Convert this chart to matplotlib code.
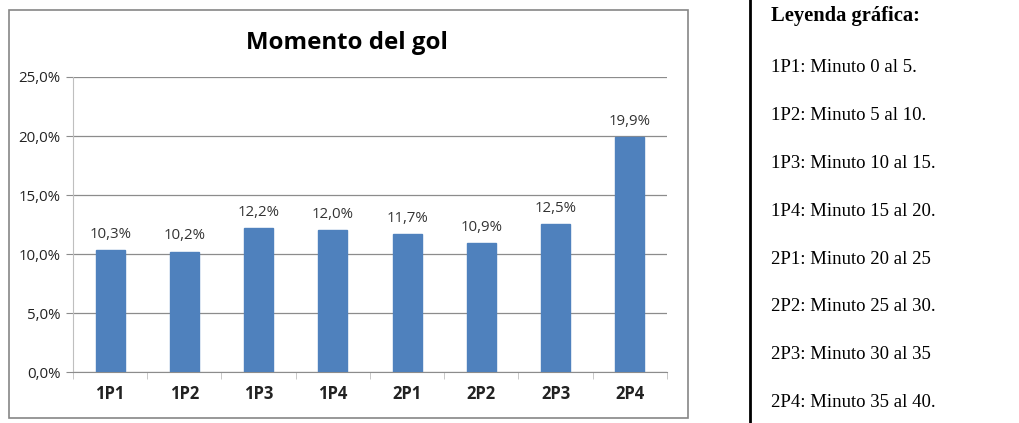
import matplotlib
matplotlib.use("Agg")
import matplotlib.pyplot as plt
from matplotlib.patches import Rectangle
from matplotlib.lines import Line2D
from matplotlib.ticker import FuncFormatter, MultipleLocator

categories = ["1P1", "1P2", "1P3", "1P4", "2P1", "2P2", "2P3", "2P4"]
values = [10.3, 10.2, 12.2, 12.0, 11.7, 10.9, 12.5, 19.9]
legend_title = "Leyenda gráfica:"
legend_items = [
    "1P1: Minuto 0 al 5.",
    "1P2: Minuto 5 al 10.",
    "1P3: Minuto 10 al 15.",
    "1P4: Minuto 15 al 20.",
    "2P1: Minuto 20 al 25",
    "2P2: Minuto 25 al 30.",
    "2P3: Minuto 30 al 35",
    "2P4: Minuto 35 al 40.",
]

W, H = 1020, 423
fig = plt.figure(figsize=(W / 100, H / 100), dpi=100)

def fx(px):
    return px / W

def fy(py):
    return 1 - py / H

# chart frame
fig.patches.append(Rectangle((fx(9), fy(418)), fx(688) - fx(9), fy(10) - fy(418),
                             transform=fig.transFigure, fill=False,
                             edgecolor="#868686", linewidth=1.2))

ax = fig.add_axes([fx(73), fy(372), fx(667) - fx(73), fy(77) - fy(372)])
x = list(range(len(categories)))
ax.bar(x, values, width=0.39, color="#4F81BD", edgecolor="#4F81BD", zorder=3)
ax.set_xlim(-0.5, len(categories) - 0.5)
ax.set_ylim(0, 25)
ax.yaxis.set_major_locator(MultipleLocator(5))
ax.yaxis.set_major_formatter(FuncFormatter(lambda v, p: f"{v:.1f}%".replace(".", ",")))
ax.grid(axis="y", color="#8c8c8c", linewidth=0.9, zorder=0)
for s in ["top", "right"]:
    ax.spines[s].set_visible(False)
ax.spines["left"].set_color("#bfbfbf")
ax.spines["bottom"].set_color("#8c8c8c")
ax.tick_params(axis="y", length=5, color="#8c8c8c", labelsize=10.8, labelcolor="#222222",
               pad=4)
ax.set_xticks(x)
ax.set_xticklabels(categories, fontsize=12, fontweight="bold", family="Open Sans")
ax.tick_params(axis="x", length=0, pad=9, labelcolor="#222222")
ax.set_xticks([i + 0.5 for i in range(-1, len(categories))], minor=True)
ax.tick_params(axis="x", which="minor", length=5, color="#bfbfbf")
for lbl in ax.get_yticklabels():
    lbl.set_family("Open Sans")

for xi, v in zip(x, values):
    ax.annotate(f"{v:.1f}%".replace(".", ","), (xi, v), xytext=(0, 6),
                textcoords="offset points", ha="center", va="bottom",
                fontsize=10.8, color="#333333", family="Open Sans")

fig.text(fx(347), fy(43), "Momento del gol", ha="center", va="center",
         fontsize=17.3, fontweight="bold", family="Open Sans", color="#000000")

# divider line
fig.add_artist(Line2D([fx(750), fx(750)], [0, 1], transform=fig.transFigure,
                      color="black", linewidth=2))

fig.text(fx(771), fy(16), legend_title, ha="left", va="center", fontsize=14.8,
         fontweight="bold", family="Liberation Serif")
ys = [67, 115, 163, 211, 259, 306, 354, 402]
for yy, t in zip(ys, legend_items):
    fig.text(fx(771), fy(yy), t, ha="left", va="center", fontsize=13.5,
             family="Liberation Serif")

fig.savefig("out.png", dpi=100)
